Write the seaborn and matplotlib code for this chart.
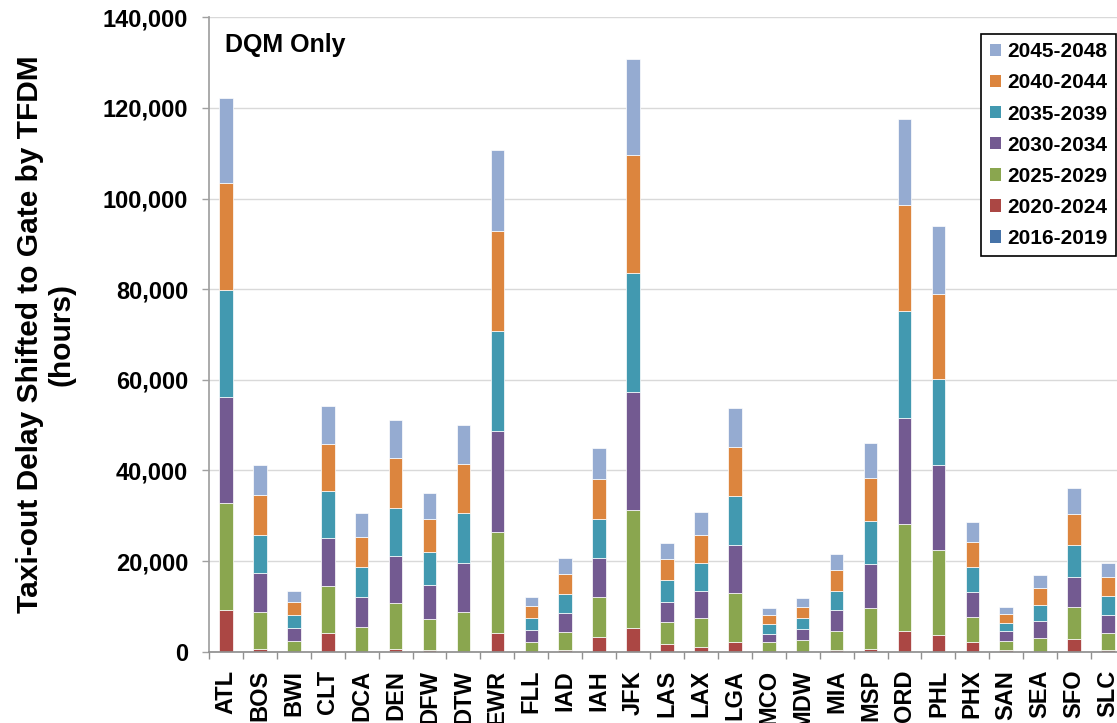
import matplotlib
matplotlib.use('Agg')
import matplotlib.pyplot as plt
from matplotlib.patches import Patch
from matplotlib.ticker import FuncFormatter, FixedLocator
import pandas as pd
import seaborn as sns

airports = ['ATL', 'BOS', 'BWI', 'CLT', 'DCA', 'DEN', 'DFW', 'DTW', 'EWR', 'FLL',
            'IAD', 'IAH', 'JFK', 'LAS', 'LAX', 'LGA', 'MCO', 'MDW', 'MIA', 'MSP',
            'ORD', 'PHL', 'PHX', 'SAN', 'SEA', 'SFO', 'SLC']

# hours of taxi-out delay shifted to gate, per period
p2016_2019 = [0] * 27
p2020_2024 = [9300, 560, 0, 4090, 0, 650, 470, 0, 4190, 0,
              280, 3350, 5120, 1770, 1120, 2140, 0, 0, 280, 650,
              4650, 3720, 2230, 470, 0, 2700, 280]
p2025_2029 = [23540, 8180, 2330, 10510, 5400, 10050, 6790, 8840, 22230, 2140,
              4090, 8740, 26140, 4740, 6230, 10790, 2140, 2510, 4280, 9020,
              23540, 18790, 5490, 1860, 2980, 7070, 3910]
p2030_2034 = [23350, 8560, 2880, 10420, 6600, 10510, 7440, 10790, 22330, 2600,
              4280, 8650, 26050, 4560, 6140, 10700, 1860, 2420, 4560, 9580,
              23440, 18790, 5490, 2140, 3720, 6790, 4000]
p2035_2039 = [23630, 8560, 2790, 10420, 6600, 10600, 7260, 10880, 22050, 2600,
              4190, 8650, 26230, 4650, 6140, 10700, 2050, 2510, 4370, 9490,
              23540, 18790, 5400, 1950, 3630, 6880, 4190]
p2040_2044 = [23540, 8650, 2880, 10420, 6700, 10880, 7260, 10880, 22050, 2700,
              4370, 8740, 26140, 4650, 6140, 10790, 1950, 2510, 4470, 9580,
              23440, 18880, 5490, 1950, 3630, 6980, 4000]
p2045_2048 = [18790, 6790, 2420, 8370, 5300, 8470, 5860, 8650, 17860, 2140,
              3440, 6880, 21020, 3630, 5120, 8560, 1670, 1950, 3630, 7720,
              18880, 15070, 4560, 1580, 3070, 5670, 3260]

periods = ['2045-2048', '2040-2044', '2035-2039', '2030-2034',
           '2025-2029', '2020-2024', '2016-2019']
series = [p2045_2048, p2040_2044, p2035_2039, p2030_2034,
          p2025_2029, p2020_2024, p2016_2019]
colors = ['#95ABD1', '#DC853E', '#4299B0', '#735A91',
          '#8AA64F', '#AB4744', '#4673A8']

rows = []
for per, vals in zip(periods, series):
    for ap, v in zip(airports, vals):
        rows.append({'airport': ap, 'period': per, 'hours': v})
df = pd.DataFrame(rows)

sns.set_theme(style='white')
plt.rcParams['font.family'] = ['Liberation Sans', 'DejaVu Sans']
plt.rcParams['font.weight'] = 'bold'
plt.rcParams['text.color'] = 'black'
plt.rcParams['axes.labelcolor'] = 'black'

fig = plt.figure(figsize=(11.17, 7.23), dpi=100)
ax = fig.add_axes([209 / 1117, 1 - 651.7 / 723, 916 / 1117, 634.4 / 723])

# first hue level ends up on top of the stack
sns.histplot(data=df, x='airport', weights='hours', hue='period',
             hue_order=periods, palette=dict(zip(periods, colors)),
             multiple='stack', discrete=True, shrink=0.4, alpha=1,
             edgecolor='white', linewidth=0.5, legend=False, ax=ax)

ax.set_xlim(-0.5, len(airports) - 0.5)
ax.set_ylim(0, 140000)
ax.set_yticks(range(0, 140001, 20000))
ax.yaxis.set_major_formatter(FuncFormatter(lambda v, p: f'{int(v):,}'))
ax.grid(axis='y', color='#D9D9D9', linewidth=1)
ax.set_axisbelow(True)

ax.set_xticks(range(len(airports)))
ax.set_xticklabels(airports, rotation=90, fontsize=17, fontweight='bold')
ax.xaxis.set_minor_locator(FixedLocator([i - 0.5 for i in range(len(airports) + 1)]))
ax.tick_params(axis='x', which='major', length=0, pad=13, labelcolor='black')
ax.tick_params(axis='x', which='minor', length=5, width=1, color='#909090', bottom=True)
ax.tick_params(axis='y', which='major', length=5, width=1, color='#A0A0A0',
               left=True, labelsize=17, pad=10, labelcolor='black')
for lab in ax.get_yticklabels():
    lab.set_fontweight('bold')

for s in ['top', 'right']:
    ax.spines[s].set_visible(False)
ax.spines['left'].set_color('#A0A0A0')
ax.spines['bottom'].set_color('#909090')

ax.set_xlabel('')
ax.set_ylabel('Taxi-out Delay Shifted to Gate by TFDM\n(hours)',
              fontsize=21.5, fontweight='bold', linespacing=1.15)
ax.yaxis.set_label_coords(-0.146, 0.5)

ax.text(0.0175, 0.946, 'DQM Only', transform=ax.transAxes,
        fontsize=18, fontweight='bold', va='baseline', ha='left')

handles = [Patch(facecolor=c, edgecolor='none', label=p) for p, c in zip(periods, colors)]
leg = fig.legend(handles=handles, loc='upper right',
                 bbox_to_anchor=(1116 / 1117, 1 - 34 / 723),
                 bbox_transform=fig.transFigure, borderaxespad=0,
                 prop={'size': 15, 'weight': 'bold'},
                 handlelength=0.55, handleheight=0.55, handletextpad=0.3,
                 labelspacing=0.58, borderpad=0.4, fancybox=False,
                 framealpha=1, edgecolor='black')
leg.get_frame().set_linewidth(1.2)

fig.savefig('out.png', dpi=100)
